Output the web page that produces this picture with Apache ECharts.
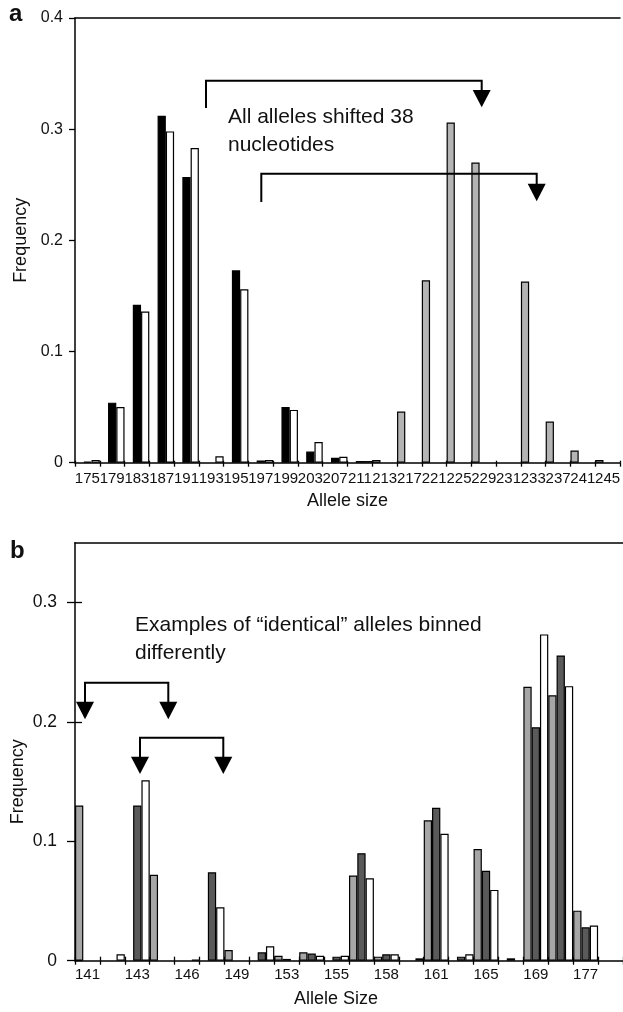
<!DOCTYPE html>
<html>
<head>
<meta charset="utf-8">
<script src="https://cdn.jsdelivr.net/npm/echarts@6/dist/echarts.min.js"></script>
<style>
html, body { margin: 0; padding: 0; background: #fff; }
#chart { width: 623px; height: 1012px; }
</style>
</head>
<body>
<div id="chart"></div>
<script>
// panel a: allele sizes and frequencies
var sizesA = ['175', '179', '183', '187', '191', '193', '195', '197', '199', '203', '207',
  '211', '213', '217', '221', '225', '229', '231', '233', '237', '241', '245']
var grayA = [null, null, null, null, null, null, null, null, null, null, null,
  null, 0.0025, 0.046, 0.164, 0.306, 0.270, null, 0.163, 0.037, 0.011, 0.0025]
var blackA = [0.001, 0.054, 0.142, 0.312, 0.257, null, 0.173, 0.002, 0.050, 0.010, 0.0045,
  0.0015, null, null, null, null, null, null, null, null, null, null]
var whiteA = [0.0025, 0.050, 0.136, 0.298, 0.283, 0.0058, 0.156, 0.0025, 0.0475, 0.0186, 0.0054,
  0.0015, null, null, null, null, null, null, null, null, null, null]

// panel b: only every other bin is labelled
var sizesB = ['141', '', '143', '', '146', '', '149', '', '153', '', '155',
  '', '158', '', '161', '', '165', '', '169', '', '177', '']
var grayB = [0.130, null, null, 0.072, null, null, 0.009, null, 0.0042, 0.007, null,
  0.0713, 0.0034, null, 0.1175, null, 0.0935, null, 0.2294, 0.2223, 0.0419, null]
var darkB = [null, null, 0.130, null, null, 0.074, null, 0.007, 0.0015, 0.006, 0.0034,
  0.090, 0.0054, null, 0.128, 0.0034, 0.0753, 0.002, 0.1955, 0.2556, 0.028, null]
var whiteB = [null, 0.0054, 0.151, null, 0.001, 0.0448, null, 0.012, null, 0.0042, 0.0042,
  0.069, 0.0054, 0.002, 0.1063, 0.0054, 0.0593, null, 0.2732, 0.2299, 0.0294, null]
var ticksB = [0, 0.1, 0.2, 0.3]

var FONT = "'Liberation Sans', Arial, Helvetica, sans-serif"
var INK = '#111'
var LINE = {color: '#000', width: 1.5}

function fmt(v) {
  return v === 0 ? '0' : v.toFixed(1)
}

function barSeries(data, color, xi, yi) {
  return {
    type: 'bar',
    xAxisIndex: xi,
    yAxisIndex: yi,
    data: data,
    barGap: '0%',
    barCategoryGap: '0%',
    silent: true,
    itemStyle: {color: color, borderColor: '#000', borderWidth: 1.2}
  }
}

function catAxis(grid, data, extra) {
  var base = {
    gridIndex: grid,
    type: 'category',
    data: data,
    axisLine: {show: false, onZero: false, lineStyle: LINE},
    axisTick: {show: false, interval: 0, lineStyle: {color: '#000', width: 1.3}},
    axisLabel: {show: false},
    splitLine: {show: false}
  }
  return Object.assign(base, extra)
}

function arrowHead(x, yBase, yTip) {
  return {
    type: 'polygon', z: 100,
    shape: {points: [[x - 9, yBase], [x + 9, yBase], [x, yTip]]},
    style: {fill: '#000'}
  }
}

function bracket(points) {
  return {
    type: 'polyline', z: 100,
    shape: {points: points},
    style: {stroke: '#000', lineWidth: 2, fill: null}
  }
}

function label(text, x, y, font) {
  return {
    type: 'text', z: 100, x: x, y: y,
    style: {text: text, fill: INK, font: font, align: 'left', verticalAlign: 'middle'}
  }
}

var nameStyle = {color: INK, fontSize: 18, fontFamily: FONT}

var option = {
  animation: false,
  backgroundColor: '#fff',
  grid: [
    {left: 75, top: 18, width: 550, height: 444.7},
    {left: 75, top: 542.7, width: 560, height: 418}
  ],
  xAxis: [
    catAxis(0, sizesA, {
      position: 'bottom',
      axisLine: {show: true, onZero: false, lineStyle: LINE},
      axisTick: {show: true, interval: 0, length: 4, lineStyle: {color: '#000', width: 1.3}},
      axisLabel: {show: true, interval: 0, margin: 9, color: INK, fontSize: 15, fontFamily: FONT},
      name: 'Allele size',
      nameLocation: 'middle',
      nameGap: 29,
      nameTextStyle: nameStyle
    }),
    catAxis(0, sizesA, {
      position: 'bottom',
      axisTick: {show: true, inside: true, interval: 0, length: 2, lineStyle: {color: '#000', width: 1.3}}
    }),
    catAxis(0, sizesA, {
      position: 'top',
      axisLine: {show: true, onZero: false, lineStyle: LINE}
    }),
    catAxis(1, sizesB, {
      position: 'bottom',
      axisLine: {show: true, onZero: false, lineStyle: LINE},
      axisTick: {show: true, interval: 0, length: 4, lineStyle: {color: '#000', width: 1.3}},
      axisLabel: {show: true, interval: 0, margin: 7, color: INK, fontSize: 15, fontFamily: FONT},
      name: 'Allele Size',
      nameLocation: 'middle',
      nameGap: 29,
      nameTextStyle: {color: INK, fontSize: 18, fontFamily: FONT, padding: [0, 26, 0, 0]}
    }),
    catAxis(1, sizesB, {
      position: 'bottom',
      axisTick: {show: true, inside: true, interval: 0, length: 4, lineStyle: {color: '#000', width: 1.3}}
    }),
    catAxis(1, sizesB, {
      position: 'top',
      axisLine: {show: true, onZero: false, lineStyle: LINE}
    })
  ],
  yAxis: [
    {
      gridIndex: 0,
      type: 'value',
      min: 0,
      max: 0.4,
      interval: 0.1,
      axisLine: {show: true, onZero: false, lineStyle: LINE},
      axisTick: {show: true, length: 6, lineStyle: {color: '#000', width: 1.3}},
      axisLabel: {margin: 12, color: INK, fontSize: 16, fontFamily: FONT, formatter: fmt},
      splitLine: {show: false},
      name: 'Frequency',
      nameLocation: 'middle',
      nameGap: 44,
      nameTextStyle: nameStyle
    },
    {
      gridIndex: 1,
      type: 'value',
      min: 0,
      max: 0.35,
      axisLine: {show: true, onZero: false, lineStyle: LINE},
      axisTick: {show: true, length: 8, customValues: ticksB, lineStyle: {color: '#000', width: 1.3}},
      axisLabel: {margin: 18, color: INK, fontSize: 17.5, fontFamily: FONT, customValues: ticksB, formatter: fmt},
      splitLine: {show: false}
    },
    {
      gridIndex: 1,
      type: 'value',
      position: 'left',
      min: 0,
      max: 0.35,
      axisLine: {show: false, onZero: false},
      axisTick: {show: true, inside: true, length: 7, customValues: ticksB, lineStyle: {color: '#000', width: 1.3}},
      axisLabel: {show: false},
      splitLine: {show: false}
    }
  ],
  series: [
    barSeries(grayA, '#b4b4b4', 0, 0),
    barSeries(blackA, '#000000', 0, 0),
    barSeries(whiteA, '#ffffff', 0, 0),
    barSeries(grayB, '#a6a6a6', 3, 1),
    barSeries(darkB, '#5a5a5a', 3, 1),
    barSeries(whiteB, '#ffffff', 3, 1)
  ],
  graphic: [
    label('a', 9, 14.7, 'bold 24px ' + FONT),
    label('b', 10, 551.7, 'bold 24px ' + FONT),
    // panel a annotation
    label('All alleles shifted 38', 228, 117.4, '21px ' + FONT),
    label('nucleotides', 228, 145.2, '21px ' + FONT),
    bracket([[206, 108], [206, 80.7], [481.7, 80.7], [481.7, 92]]),
    arrowHead(481.7, 90, 107.3),
    bracket([[261.3, 202], [261.3, 173.7], [536.7, 173.7], [536.7, 185]]),
    arrowHead(536.7, 183.7, 201.3),
    // panel b annotation
    label('Examples of \u201cidentical\u201d alleles binned', 135, 625, '21px ' + FONT),
    label('differently', 135, 653.3, '21px ' + FONT),
    bracket([[85, 702], [85, 682.7], [168.3, 682.7], [168.3, 702]]),
    arrowHead(85, 701.7, 719.3),
    arrowHead(168.3, 701.7, 719.3),
    bracket([[140, 757], [140, 737.7], [223.3, 737.7], [223.3, 757]]),
    arrowHead(140, 756.7, 774),
    arrowHead(223.3, 756.7, 774),
    {
      type: 'text', z: 100, x: 18.3, y: 781.7, rotation: Math.PI / 2,
      style: {text: 'Frequency', fill: INK, font: '18px ' + FONT, align: 'center', verticalAlign: 'middle'}
    }
  ]
}

var chart = echarts.init(document.getElementById('chart'), null, {renderer: 'canvas'})
chart.setOption(option)
</script>
</body>
</html>
